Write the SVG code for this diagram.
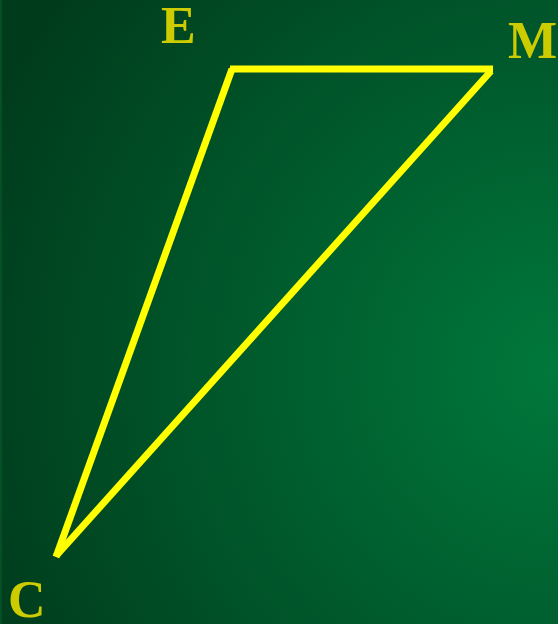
<svg xmlns="http://www.w3.org/2000/svg" width="558" height="624" viewBox="0 0 558 624">
<defs>
<radialGradient id="bg" gradientUnits="userSpaceOnUse" cx="558" cy="370" r="620">
<stop offset="0" stop-color="#00783c"/>
<stop offset="1" stop-color="#003c1c"/>
</radialGradient>
<style>
.lbl{font-family:"Liberation Serif",serif;font-weight:bold;font-size:52px;fill:#cccc00}
.edge{stroke:#ffff00;stroke-width:7;fill:none;stroke-linecap:butt}
</style>
</defs>
<rect width="558" height="624" fill="url(#bg)"/>
<rect x="0" y="0" width="2" height="624" fill="#0a5a2a" opacity="0.6"/>
<g id="connectors">
<line class="edge" x1="230" y1="69" x2="493" y2="69"/>
<line class="edge" x1="491" y1="71" x2="56" y2="556"/>
<line class="edge" x1="232" y1="69" x2="56" y2="557"/>
</g>
<g id="node-E"><text class="lbl" x="161" y="43">E</text></g>
<g id="node-M"><text class="lbl" x="508" y="58">M</text></g>
<g id="node-C"><text class="lbl" x="8" y="617">C</text></g>
</svg>
